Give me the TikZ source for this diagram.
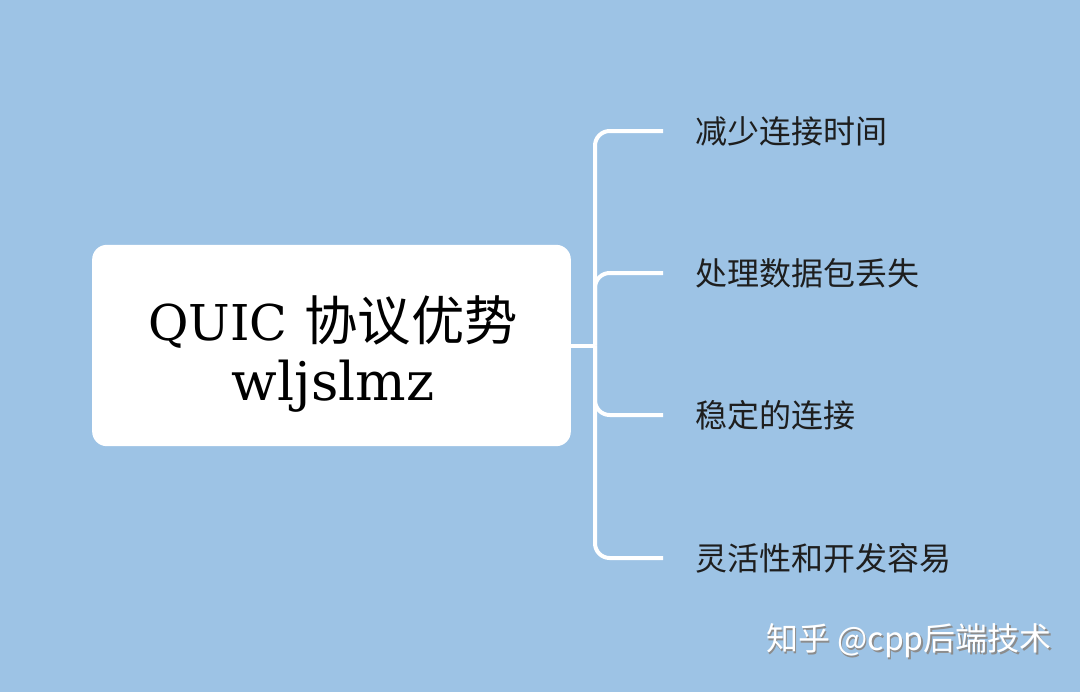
\documentclass[tikz,border=0pt]{standalone}
\usepackage{fontspec}
\setmainfont{DejaVu Serif}
\newfontfamily\cjk{Noto Sans CJK SC}
\definecolor{bgblue}{RGB}{157,195,229}
\definecolor{leafink}{RGB}{30,30,30}

\tikzset{
  rootbox/.style={fill=white, rounded corners=11pt, minimum width=359pt, minimum height=151pt},
  title/.style={align=center, font=\fontsize{40}{45}\selectfont, text=black},
  leaf/.style={anchor=west, inner xsep=24pt, font=\cjk\fontsize{24}{28}\selectfont, text=leafink},
  branch/.style={draw=white, line width=3pt, rounded corners=11pt}
}

\begin{document}
\begin{tikzpicture}[x=0.75pt, y=-0.75pt]

\path[fill=bgblue] (0,0) rectangle (1080,692);
\useasboundingbox (0,0) rectangle (1080,692);

\node [rootbox] (root) at (331.5,345.5) {};
\node [title] (name) at (333,354) {{\fontsize{37}{45}\selectfont QUIC} {\cjk 协议优势}\\wljslmz};
\coordinate (fork) at (595,345.5);

\node [leaf] (t1) at (663,131) {减少连接时间};
\node [leaf] (t2) at (663,273) {处理数据包丢失};
\node [leaf] (t3) at (663,415) {稳定的连接};
\node [leaf] (t4) at (663,558) {灵活性和开发容易};

\draw [branch] (root.east) -- (fork);
\foreach \t in {t1,t2,t3,t4}
  \draw [branch] (fork) |- (\t.west);

% watermark
\node [font=\cjk\fontsize{24}{28}\selectfont, text=black!45] at (910.5,642.5) {知乎 @cpp后端技术};
\node (mark) [font=\cjk\fontsize{24}{28}\selectfont, text=white] at (909,641) {知乎 @cpp后端技术};
\end{tikzpicture}
\end{document}
